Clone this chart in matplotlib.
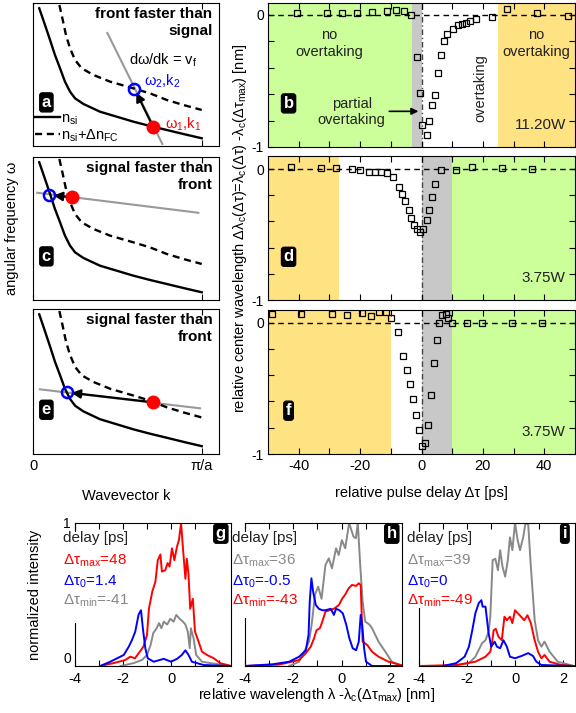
import numpy as np
import matplotlib.pyplot as plt
from matplotlib.patches import Rectangle

plt.rcParams['font.family'] = ['Liberation Sans', 'DejaVu Sans']
plt.rcParams['mathtext.fontset'] = 'custom'
plt.rcParams['mathtext.rm'] = 'Liberation Sans'
plt.rcParams['mathtext.it'] = 'Liberation Sans:italic'
plt.rcParams['mathtext.bf'] = 'Liberation Sans:bold'
plt.rcParams['font.size'] = 10

# ---- dispersion sketches (a, c, e) ----
k_si = [0.037, 0.071, 0.101, 0.130, 0.160, 0.189, 0.219, 0.249, 0.298, 0.396,
        0.495, 0.594, 0.692, 0.791, 0.889, 0.998]
w_si = [0.963, 0.846, 0.741, 0.636, 0.543, 0.450, 0.380, 0.333, 0.294, 0.240,
        0.205, 0.170, 0.140, 0.112, 0.084, 0.054]
k_fc = [0.156, 0.176, 0.195, 0.219, 0.249, 0.288, 0.357, 0.456, 0.594, 0.692,
        0.791, 0.889, 0.998]
w_fc = [0.986, 0.881, 0.776, 0.683, 0.601, 0.543, 0.497, 0.450, 0.403, 0.368,
        0.322, 0.287, 0.252]

grey_k = {'a': [0.44, 0.765], 'c': [0.025, 0.978], 'e': [0.041, 0.988]}
grey_w = {'a': [0.79, 0.014], 'c': [0.75, 0.61], 'e': [0.446, 0.315]}
red_pt = {'a': (0.71, 0.135), 'c': (0.229, 0.718), 'e': (0.708, 0.357)}
blue_pt = {'a': (0.60, 0.40), 'c': (0.097, 0.734), 'e': (0.203, 0.425)}
sketch_title = {'a': 'front faster than\nsignal',
                'c': 'signal faster than\nfront',
                'e': 'signal faster than\nfront'}

# ---- center wavelength shift vs delay (b, d, f) ----
delay_b = [-40.7, -30.9, -26.0, -21.1, -16.2, -11.4, -8.3, -5.7, -3.5, -1.4, -0.5,
           0.3, 1.7, 2.6, 3.4, 4.3, 5.4, 6.2, 7.4, 8.4, 10.2, 11.8, 13.3, 14.4,
           15.8, 17.9, 23.1, 27.7, 37.6, 47.8]
shift_b = [0.013, 0.013, 0.013, 0.013, 0.025, 0.033, 0.038, 0.030, 0.0, -0.316,
           -0.59, -0.83, -0.91, -0.80, -0.68, -0.61, -0.44, -0.30, -0.20, -0.147,
           -0.11, -0.076, -0.068, -0.058, -0.05, -0.033, -0.018, 0.043, 0.013,
           -0.005]
delay_d = [-42.6, -32.8, -27.8, -22.8, -20.0, -17.0, -15.2, -13.3, -11.1, -9.2,
           -7.2, -6.4, -5.4, -4.2, -3.3, -2.4, -1.5, -0.5, 0.6, 1.7, 2.6, 3.4,
           4.5, 6.3, 11.4, 16.3, 26.1, 35.9]
shift_d = [0.018, 0.01, 0.01, 0.0, -0.008, -0.02, -0.02, -0.02, -0.033, -0.064,
           -0.135, -0.19, -0.24, -0.31, -0.37, -0.43, -0.46, -0.48, -0.46, -0.39,
           -0.31, -0.21, -0.115, -0.008, -0.008, 0.013, 0.01, 0.0]
delay_f = [-48.8, -39.1, -29.2, -24.4, -19.5, -16.6, -13.7, -11.7, -9.8, -7.8,
           -5.9, -4.8, -3.8, -2.9, -1.9, -0.9, 0.0, 1.1, 2.0, 3.0, 4.0, 4.9, 5.8,
           6.8, 8.0, 8.7, 9.8, 14.7, 19.8, 29.6, 39.4]
shift_f = [0.066, 0.066, 0.066, 0.058, 0.076, 0.053, 0.079, 0.079, 0.033, -0.074,
           -0.25, -0.36, -0.47, -0.58, -0.70, -0.82, -0.94, -0.92, -0.78, -0.55,
           -0.31, -0.13, 0.0, 0.058, 0.066, 0.033, 0.0, 0.0, 0.0, 0.0, 0.0]

GREEN, YELLOW, GREY = '#ccff99', '#ffe282', '#c8c8c8'
regions_b = [(-50, -3, GREEN), (-3, 0, GREY), (25, 50, YELLOW)]
regions_d = [(-50, -27, YELLOW), (0, 10, GREY), (10, 50, GREEN)]
regions_f = [(-50, -10, YELLOW), (0, 10, GREY), (10, 50, GREEN)]

# ---- spectra (g, h, i) ----
lam_g_red = [-2.95, -2.4, -1.9, -1.7, -1.5, -1.3, -1.15, -1.0, -0.92, -0.78, -0.65,
             -0.55, -0.44, -0.38, -0.24, -0.14, -0.06, 0.04, 0.14, 0.25, 0.33, 0.42,
             0.5, 0.6, 0.66, 0.73, 0.8, 0.91, 1.0, 1.15, 1.29, 1.5, 1.78, 2.05, 2.5]
int_g_red = [0.0, 0.02, 0.042, 0.065, 0.054, 0.10, 0.135, 0.217, 0.40, 0.52, 0.59,
             0.74, 0.78, 0.66, 0.67, 0.72, 0.695, 0.823, 0.74, 0.835, 0.88, 1.0,
             0.82, 0.61, 0.75, 0.64, 0.40, 0.47, 0.24, 0.17, 0.10, 0.077, 0.054,
             0.02, 0.0]
lam_g_blue = [-2.95, -2.53, -1.97, -1.76, -1.63, -1.49, -1.35, -1.25, -1.17, -1.07,
              -0.97, -0.72, -0.3, 0.0, 0.25, 0.45, 0.6, 0.73, 0.87, 1.08, 1.36, 2.5]
int_g_blue = [0.0, 0.03, 0.077, 0.135, 0.18, 0.24, 0.36, 0.39, 0.26, 0.124, 0.054,
              0.03, 0.05, 0.03, 0.05, 0.077, 0.11, 0.077, 0.03, 0.02, 0.007, 0.0]
lam_g_grey = [-2.1, -1.56, -1.21, -1.0, -0.85, -0.74, -0.6, -0.5, -0.4, -0.3, -0.16,
              -0.03, 0.11, 0.22, 0.36, 0.5, 0.6, 0.7, 0.78, 0.83, 0.94, 1.05, 1.29,
              1.64, 2.5]
int_g_grey = [0.0, 0.02, 0.042, 0.077, 0.147, 0.23, 0.264, 0.30, 0.264, 0.31, 0.29,
              0.33, 0.31, 0.357, 0.33, 0.31, 0.29, 0.24, 0.124, 0.264, 0.194, 0.077,
              0.03, 0.02, 0.0]

lam_h_grey = [-2.17, -1.76, -1.48, -1.35, -1.24, -1.1, -0.97, -0.83, -0.67, -0.53,
              -0.4, -0.23, -0.12, 0.01, 0.15, 0.31, 0.49, 0.59, 0.67, 0.77, 0.87,
              0.98, 1.15, 1.26, 1.53, 1.81, 2.08, 2.5]
int_h_grey = [0.0, 0.03, 0.124, 0.17, 0.29, 0.50, 0.555, 0.47, 0.706, 0.753, 0.683,
              0.823, 0.776, 0.88, 0.823, 1.0, 0.905, 0.893, 1.0, 0.706, 0.45, 0.31,
              0.29, 0.264, 0.17, 0.10, 0.03, 0.0]
lam_h_blue = [-4.0, -2.85, -2.17, -1.76, -1.48, -1.37, -1.32, -1.25, -1.18, -1.07,
              -0.94, -0.8, -0.67, -0.45, -0.32, -0.23, -0.09, 0.05, 0.19, 0.32, 0.46,
              0.6, 0.71, 0.79, 0.85, 0.93, 1.01, 1.26, 2.5]
int_h_blue = [0.0, 0.012, 0.03, 0.065, 0.11, 0.217, 0.45, 0.613, 0.52, 0.427, 0.40,
              0.39, 0.39, 0.40, 0.357, 0.40, 0.39, 0.368, 0.29, 0.194, 0.124, 0.11,
              0.17, 0.357, 0.29, 0.124, 0.03, 0.0, 0.0]
lam_h_red = [-4.0, -2.58, -1.76, -1.48, -1.28, -1.14, -1.04, -0.9, -0.8, -0.67, -0.5,
             -0.32, -0.11, 0.02, 0.15, 0.29, 0.43, 0.6, 0.71, 0.79, 0.87, 1.06, 1.26,
             1.53, 1.94, 2.5]
int_h_red = [0.0, 0.01, 0.042, 0.09, 0.135, 0.194, 0.25, 0.264, 0.31, 0.38, 0.39,
             0.40, 0.427, 0.47, 0.50, 0.543, 0.567, 0.56, 0.578, 0.567, 0.17, 0.147,
             0.10, 0.065, 0.03, 0.005]

lam_i_grey = [-2.6, -1.92, -1.65, -1.37, -1.23, -1.1, -1.03, -0.93, -0.82, -0.71,
              -0.62, -0.52, -0.41, -0.3, -0.21, -0.11, 0.0, 0.11, 0.21, 0.34, 0.44,
              0.55, 0.66, 0.82, 0.96, 1.1, 1.23, 1.44, 1.78, 2.45]
int_i_grey = [0.0, 0.02, 0.065, 0.16, 0.18, 0.24, 0.345, 0.74, 0.75, 0.67, 0.81,
              0.695, 0.625, 0.74, 0.90, 0.81, 1.0, 0.88, 0.81, 0.90, 1.0, 0.99, 0.695,
              0.32, 0.18, 0.135, 0.17, 0.10, 0.03, 0.0]
lam_i_blue = [-3.0, -2.45, -2.1, -1.92, -1.78, -1.65, -1.51, -1.4, -1.35, -1.23,
              -1.1, -0.99, -0.85, -0.75, -0.62, -0.48, -0.34, -0.21, 0.0, 0.27, 0.55,
              0.75, 0.89, 1.1, 2.45]
int_i_blue = [0.0, 0.02, 0.065, 0.135, 0.25, 0.37, 0.44, 0.46, 0.415, 0.415, 0.23,
              0.135, 0.17, 0.135, 0.124, 0.18, 0.135, 0.065, 0.054, 0.07, 0.09, 0.07,
              0.03, 0.007, 0.0]
lam_i_red = [-4.0, -2.45, -1.65, -1.23, -1.03, -0.96, -0.89, -0.8, -0.69, -0.55,
             -0.44, -0.34, -0.21, -0.11, 0.0, 0.11, 0.25, 0.38, 0.52, 0.66, 0.82,
             0.96, 1.1, 1.23, 1.44, 1.92, 2.45]
int_i_red = [0.0, 0.007, 0.03, 0.065, 0.10, 0.16, 0.25, 0.26, 0.205, 0.18, 0.345,
             0.32, 0.345, 0.30, 0.39, 0.37, 0.345, 0.32, 0.355, 0.30, 0.18, 0.10,
             0.054, 0.077, 0.03, 0.007, 0.0]

legend_g = ['Δτ$\\mathregular{_{max}}$=48', 'Δτ$\\mathregular{_{0}}$=1.4',
            'Δτ$\\mathregular{_{min}}$=-41']
legend_h = ['Δτ$\\mathregular{_{max}}$=36', 'Δτ$\\mathregular{_{0}}$=-0.5',
            'Δτ$\\mathregular{_{min}}$=-43']
legend_i = ['Δτ$\\mathregular{_{max}}$=39', 'Δτ$\\mathregular{_{0}}$=0',
            'Δτ$\\mathregular{_{min}}$=-49']

W, H = 576, 713
fig = plt.figure(figsize=(W / 100, H / 100), dpi=100)


def box(x0, y0, x1, y1):
    return fig.add_axes([x0 / W, 1 - y1 / H, (x1 - x0) / W, (y1 - y0) / H])


def tag(ax, x, y, s, transform=None):
    ax.text(x, y, s, color='white', fontsize=12, fontweight='bold', ha='center',
            va='center', transform=transform or ax.transData, zorder=5,
            bbox=dict(boxstyle='round,pad=0.12,rounding_size=0.15', fc='black', ec='black'))


# left sketches
for name, rect in [('a', (33, 3, 219, 146)), ('c', (33, 157, 219, 300)),
                   ('e', (33, 309, 219, 454))]:
    ax = box(*rect)
    ax.plot(k_si, w_si, color='black', lw=1.7, label='n$_{\\mathregular{si}}$')
    ax.plot(k_fc, w_fc, color='black', lw=1.7, ls=(0, (3, 2)),
            label='n$_{\\mathregular{si}}$+Δn$_{\\mathregular{FC}}$')
    ax.plot(grey_k[name], grey_w[name], color='#999999', lw=1.5, zorder=1)
    ax.annotate('', xy=blue_pt[name], xytext=red_pt[name],
                arrowprops=dict(arrowstyle='-|>', color='black', lw=1.6,
                                mutation_scale=13, shrinkA=0, shrinkB=3))
    ax.plot(*red_pt[name], 'o', color='red', ms=9, zorder=4)
    ax.plot(*blue_pt[name], 'o', mfc='none', mec='blue', mew=1.8, ms=8, zorder=4)
    ax.text(0.965, 0.97, sketch_title[name], transform=ax.transAxes, ha='right',
            va='top', fontweight='bold', fontsize=11, linespacing=1.25)
    ax.set_xlim(0, 1.1)
    ax.set_ylim(0, 1)
    ax.set_xticks([0, 1])
    ax.set_yticks([])
    ax.tick_params(axis='x', direction='in', top=True, length=4)
    if name == 'e':
        ax.set_xticklabels(['0', 'π/a'], fontsize=10.5)
    else:
        ax.set_xticklabels([])
    if name == 'a':
        ax.text(0.70, 0.60, 'dω/dk = v$_{\\mathregular{f}}$', transform=ax.transAxes,
                ha='center', va='center', fontsize=10.5)
        ax.text(0.597, 0.45, 'ω$_{\\mathregular{2}}$,k$_{\\mathregular{2}}$', color='blue',
                transform=ax.transAxes, ha='left', va='center', fontsize=10.5)
        ax.text(0.71, 0.15, 'ω$_{\\mathregular{1}}$,k$_{\\mathregular{1}}$', color='red',
                transform=ax.transAxes, ha='left', va='center', fontsize=10.5)
        ax.legend(loc='lower left', frameon=False, handlelength=1.7, handletextpad=0.1,
                  labelspacing=0.05, borderaxespad=0.0, borderpad=0.15, fontsize=10.5)
    tag(ax, 0.072, 0.305, name, transform=ax.transAxes)

fig.text(12 / W, 1 - 228 / H, 'angular frequency ω', rotation=90, ha='center',
         va='center', fontsize=10.5)
fig.text(126 / W, 1 - 496 / H, 'Wavevector k', ha='center', va='center', fontsize=10.5)

# right panels
right = [('b', (268, 3, 575, 147), delay_b, shift_b, regions_b, '11.20W', 0.09),
         ('d', (268, 156, 575, 300), delay_d, shift_d, regions_d, '3.75W', 0.1),
         ('f', (268, 310, 575, 454), delay_f, shift_f, regions_f, '3.75W', 0.097)]
for name, rect, xs, ys, regions, power, ytop in right:
    ax = box(*rect)
    for x0, x1, c in regions:
        ax.axvspan(x0, x1, color=c, lw=0, zorder=0)
    ax.axhline(0, color='black', ls=(0, (4, 3)), lw=1.0, zorder=1)
    ax.axvline(0, color='#444444', ls=(0, (4, 2, 1, 2)), lw=1.0, zorder=1)
    ax.plot(xs, ys, 's', mfc='none', mec='black', mew=0.9, ms=4.5, zorder=3)
    ax.set_xlim(-50, 50)
    ax.set_ylim(-1, ytop)
    ax.set_xticks(np.arange(-40, 50, 10))
    ax.set_yticks([0, -0.2, -0.4, -0.6, -0.8, -1])
    ax.set_yticklabels(['0', '', '', '', '', '-1'], fontsize=10)
    if name == 'f':
        ax.set_xticklabels(['-40', '', '-20', '', '0', '', '20', '', '40'], fontsize=10.5)
    else:
        ax.set_xticklabels([])
    ax.tick_params(direction='in', top=True, right=True, length=4)
    ax.tick_params(axis='y', pad=3)
    ax.text(47, -0.835, power, ha='right', va='center', fontsize=11, color='#222222')
    tag(ax, -43.3, -0.67, name)
    if name == 'b':
        ax.text(-30, -0.215, 'no\novertaking', ha='center', va='center',
                fontsize=10.5, color='#222222', linespacing=1.25)
        ax.text(37.5, -0.215, 'no\novertaking', ha='center', va='center',
                fontsize=10.5, color='#222222', linespacing=1.25)
        ax.text(19.3, -0.557, 'overtaking', rotation=90, ha='center', va='center',
                fontsize=10.5, color='#222222')
        ax.text(-22.7, -0.735, 'partial\novertaking', ha='center', va='center',
                fontsize=10.5, color='#222222', linespacing=1.25)
        ax.annotate('', xy=(-1.0, -0.73), xytext=(-10.5, -0.73),
                    arrowprops=dict(arrowstyle='-|>', color='black', lw=1.2,
                                    mutation_scale=10, shrinkA=0, shrinkB=0))

fig.text(240 / W, 1 - 228 / H,
         'relative center wavelength Δλ$_{\\mathregular{c}}$(Δτ)=λ$_{\\mathregular{c}}$(Δτ)'
         ' -λ$_{\\mathregular{c}}$(Δτ$_{\\mathregular{max}}$) [nm]',
         rotation=90, ha='center', va='center', fontsize=10.5)
fig.text(421 / W, 1 - 493 / H, 'relative pulse delay Δτ [ps]', ha='center',
         va='center', fontsize=10.5)

# bottom spectra
bottom = [('g', (75, 523, 231, 666),
           [(lam_g_grey, int_g_grey, '#888888'), (lam_g_red, int_g_red, 'red'),
            (lam_g_blue, int_g_blue, 'blue')],
           legend_g, ['red', 'blue', '#888888'], 0.30),
          ('h', (245, 523, 402, 666),
           [(lam_h_grey, int_h_grey, '#888888'), (lam_h_red, int_h_red, 'red'),
            (lam_h_blue, int_h_blue, 'blue')],
           legend_h, ['#888888', 'blue', 'red'], 0.336),
          ('i', (419, 523, 575, 666),
           [(lam_i_grey, int_i_grey, '#888888'), (lam_i_red, int_i_red, 'red'),
            (lam_i_blue, int_i_blue, 'blue')],
           legend_i, ['#888888', 'blue', 'red'], 0.405)]
for name, rect, curves, labels, colors, gap in bottom:
    ax = box(*rect)
    for xs, ys, c in curves:
        ax.plot(xs, ys, color=c, lw=1.4)
    ax.set_xlim(-4, 2.5)
    ax.set_ylim(0, 1)
    ax.set_xticks([-4, -3, -2, -1, 0, 1, 2])
    ax.set_xticklabels(['-4', '', '-2', '', '0', '', '2'], fontsize=10.5)
    ax.tick_params(axis='x', direction='in', top=True, length=4, pad=4)
    if name == 'g':
        ax.set_yticks([0, 1])
        ax.set_yticklabels(['0', '1'], fontsize=10)
        ax.tick_params(axis='y', length=0, pad=3)
        ax.get_yticklabels()[0].set_verticalalignment('bottom')
    else:
        ax.set_yticks([])
    ax.add_patch(Rectangle((-0.03, gap), 0.06, 0.94 - gap, transform=ax.transAxes,
                           fc='white', ec='none', zorder=2.6, clip_on=False))
    ax.text(-0.08, 0.895, 'delay [ps]', transform=ax.transAxes, ha='left',
            va='center', fontsize=11, color='#222222', zorder=4)
    for lab, c, y in zip(labels, colors, [0.735, 0.59, 0.455]):
        ax.text(-0.08, y, lab, transform=ax.transAxes, ha='left', va='center',
                fontsize=11, color=c, zorder=4)
    tag(ax, 0.935, 0.925, name, transform=ax.transAxes)

fig.text(35 / W, 1 - 595 / H, 'normalized intensity', rotation=90, ha='center',
         va='center', fontsize=10.5)
fig.text(317 / W, 1 - 695 / H, 'relative wavelength λ -λ$_{\\mathregular{c}}$(Δτ$_{\\mathregular{max}}$) [nm]',
         ha='center', va='center', fontsize=10.5)

fig.savefig('out.png', dpi=100)
